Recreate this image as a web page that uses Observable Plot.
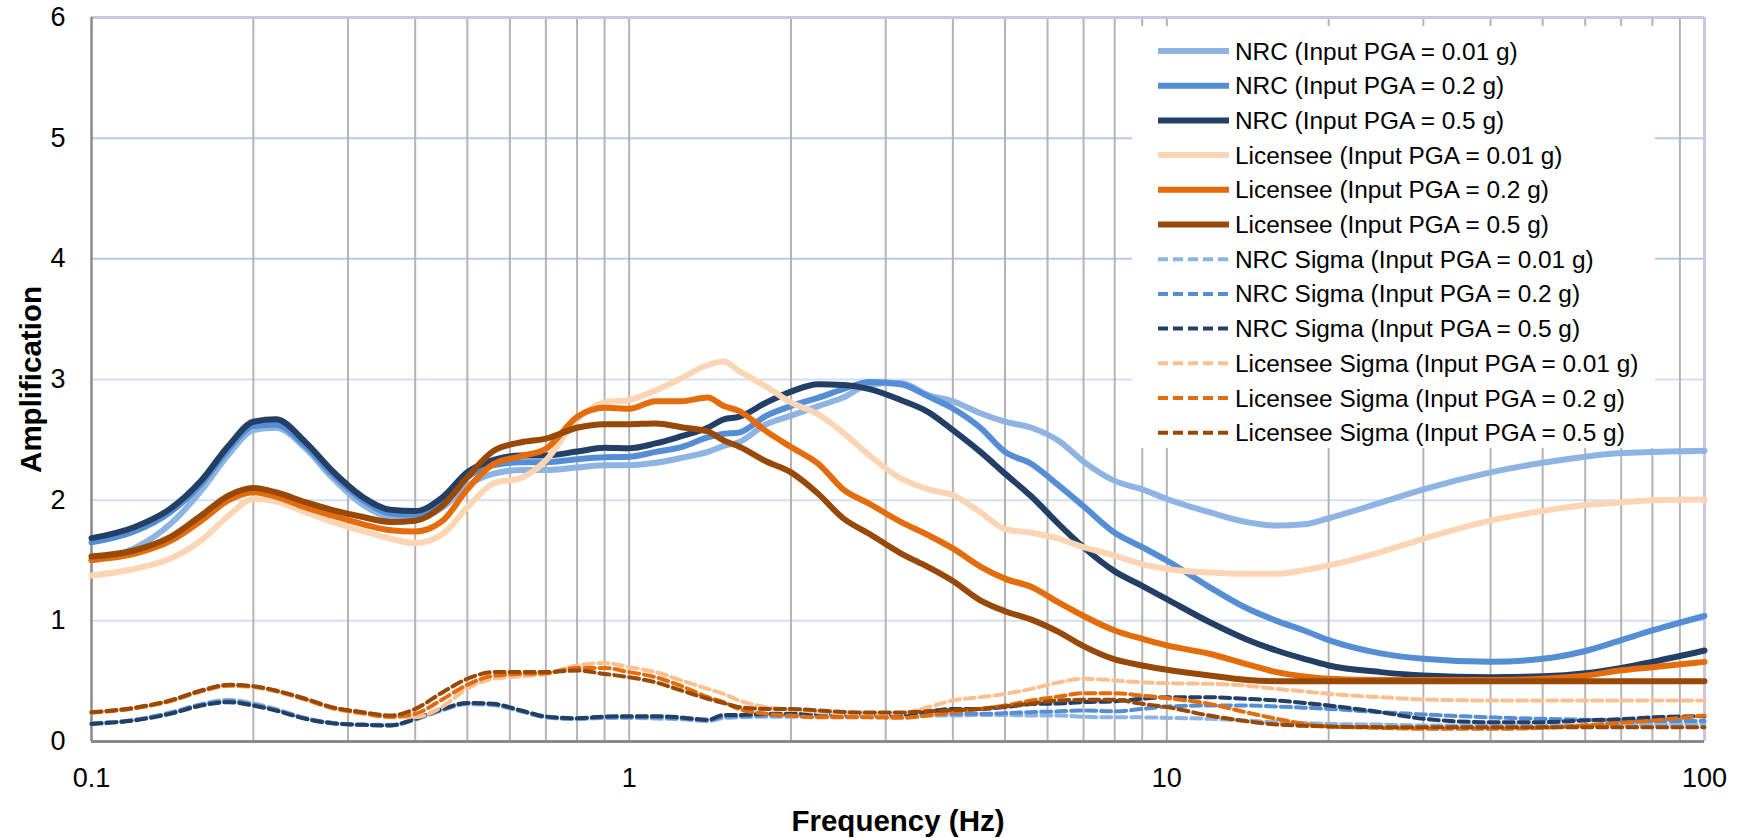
<!DOCTYPE html>
<html>
<head>
<meta charset="utf-8">
<script src="https://cdn.jsdelivr.net/npm/d3@7"></script>
<script src="https://cdn.jsdelivr.net/npm/@observablehq/plot@0.6"></script>
<style>
  html, body { margin: 0; padding: 0; background: #fff; }
  #chart { width: 1747px; height: 838px; }
</style>
</head>
<body>
<div id="chart"></div>
<script>
// ---------- data ----------
const freq = [0.1,0.12,0.14,0.16,0.18,0.2,0.22,0.25,0.28,0.32,0.36,0.4,0.45,0.5,0.56,0.63,0.7,0.8,0.9,
  1,1.12,1.25,1.4,1.5,1.6,1.8,2,2.25,2.5,2.8,3.2,3.6,4,4.5,5,5.6,6.3,7,8,9,
  10,12,14,16,18,20,25,30,40,50,60,70,80,100];

const nrc001 = [1.50,1.60,1.80,2.08,2.38,2.58,2.60,2.43,2.19,1.96,1.86,1.85,1.94,2.12,2.22,2.25,2.25,2.27,2.29,
  2.29,2.31,2.35,2.40,2.45,2.48,2.63,2.70,2.78,2.85,2.96,2.97,2.87,2.82,2.72,2.65,2.60,2.49,2.32,2.16,2.09,
  2.01,1.90,1.82,1.79,1.80,1.85,1.98,2.09,2.23,2.31,2.36,2.39,2.40,2.41];
const nrc02 = [1.65,1.74,1.90,2.135,2.425,2.615,2.625,2.45,2.22,2.00,1.89,1.88,2.00,2.19,2.29,2.315,2.315,2.34,2.356,
  2.36,2.40,2.44,2.52,2.55,2.56,2.70,2.78,2.85,2.92,2.98,2.96,2.86,2.76,2.60,2.40,2.30,2.12,1.95,1.73,1.61,
  1.50,1.28,1.11,1.00,0.92,0.84,0.73,0.685,0.66,0.685,0.75,0.84,0.92,1.04];
const nrc05 = [1.685,1.776,1.928,2.163,2.453,2.65,2.67,2.481,2.246,2.025,1.92,1.91,2.025,2.232,2.334,2.37,2.37,2.403,2.434,
  2.43,2.47,2.53,2.60,2.67,2.69,2.81,2.90,2.96,2.955,2.92,2.83,2.73,2.58,2.40,2.22,2.03,1.80,1.61,1.41,1.29,
  1.18,0.99,0.85,0.754,0.685,0.63,0.575,0.547,0.533,0.54,0.565,0.61,0.66,0.754];
const lic001 = [1.376,1.43,1.514,1.666,1.873,2.01,1.99,1.90,1.82,1.743,1.68,1.644,1.72,1.94,2.14,2.185,2.33,2.67,2.81,
  2.83,2.91,3.01,3.12,3.15,3.07,2.94,2.81,2.71,2.56,2.37,2.18,2.09,2.04,1.90,1.76,1.73,1.68,1.61,1.54,1.47,
  1.43,1.40,1.39,1.39,1.42,1.46,1.57,1.68,1.83,1.91,1.96,1.98,2.00,2.005];
const lic02 = [1.505,1.555,1.66,1.83,2.0,2.066,2.03,1.94,1.873,1.80,1.75,1.74,1.83,2.09,2.30,2.365,2.425,2.69,2.765,
  2.757,2.82,2.82,2.85,2.78,2.74,2.57,2.44,2.30,2.09,1.97,1.82,1.71,1.60,1.45,1.35,1.28,1.15,1.04,0.92,0.85,
  0.796,0.727,0.644,0.575,0.539,0.52,0.51,0.51,0.51,0.52,0.545,0.59,0.616,0.66];
const lic05 = [1.533,1.583,1.693,1.873,2.039,2.10,2.066,1.983,1.92,1.86,1.82,1.83,1.956,2.19,2.41,2.48,2.51,2.60,2.63,
  2.63,2.635,2.605,2.57,2.494,2.445,2.32,2.23,2.05,1.85,1.72,1.56,1.445,1.33,1.17,1.08,1.01,0.906,0.79,0.68,0.63,
  0.594,0.547,0.511,0.50,0.50,0.50,0.50,0.50,0.50,0.50,0.50,0.50,0.50,0.50];
const nrcS001 = [0.15,0.18,0.24,0.31,0.345,0.315,0.27,0.195,0.155,0.14,0.138,0.18,0.26,0.31,0.30,0.25,0.20,0.185,0.195,
  0.195,0.19,0.185,0.17,0.195,0.20,0.205,0.205,0.205,0.205,0.207,0.207,0.215,0.215,0.22,0.22,0.215,0.215,0.205,0.20,0.20,
  0.196,0.188,0.174,0.16,0.153,0.146,0.14,0.133,0.133,0.133,0.133,0.135,0.14,0.146];
const nrcS02 = [0.15,0.178,0.235,0.305,0.335,0.305,0.262,0.19,0.153,0.138,0.135,0.185,0.265,0.315,0.307,0.253,0.203,0.19,0.20,
  0.20,0.20,0.19,0.175,0.205,0.21,0.215,0.215,0.215,0.215,0.215,0.22,0.229,0.23,0.229,0.235,0.243,0.25,0.257,0.25,0.27,
  0.29,0.298,0.298,0.29,0.28,0.27,0.243,0.224,0.20,0.188,0.18,0.174,0.17,0.169];
const nrcS05 = [0.146,0.174,0.229,0.298,0.326,0.298,0.257,0.188,0.152,0.138,0.133,0.188,0.27,0.32,0.312,0.257,0.207,0.193,0.207,
  0.21,0.21,0.20,0.18,0.22,0.22,0.23,0.23,0.23,0.23,0.229,0.224,0.25,0.27,0.27,0.285,0.31,0.315,0.326,0.334,0.354,
  0.367,0.367,0.354,0.34,0.32,0.298,0.243,0.188,0.16,0.16,0.175,0.185,0.20,0.21];
const licS001 = [0.24,0.275,0.335,0.415,0.46,0.45,0.415,0.345,0.275,0.23,0.20,0.20,0.29,0.44,0.52,0.54,0.56,0.63,0.65,
  0.616,0.575,0.506,0.436,0.395,0.34,0.285,0.265,0.243,0.235,0.229,0.235,0.285,0.34,0.367,0.395,0.436,0.49,0.52,0.506,0.49,
  0.483,0.478,0.464,0.436,0.415,0.395,0.367,0.348,0.34,0.34,0.34,0.34,0.34,0.34];
const licS02 = [0.24,0.275,0.335,0.418,0.465,0.455,0.42,0.35,0.28,0.235,0.205,0.23,0.35,0.47,0.545,0.56,0.565,0.61,0.61,
  0.575,0.533,0.46,0.367,0.326,0.27,0.229,0.215,0.20,0.20,0.20,0.196,0.215,0.243,0.27,0.298,0.34,0.373,0.40,0.40,0.38,
  0.36,0.312,0.243,0.188,0.146,0.124,0.113,0.105,0.105,0.113,0.135,0.155,0.174,0.215];
const licS05 = [0.243,0.279,0.34,0.423,0.47,0.459,0.423,0.354,0.285,0.243,0.215,0.27,0.409,0.52,0.575,0.575,0.575,0.588,0.56,
  0.533,0.49,0.423,0.354,0.318,0.285,0.27,0.27,0.257,0.245,0.24,0.24,0.25,0.26,0.27,0.29,0.315,0.34,0.345,0.345,0.312,
  0.285,0.215,0.169,0.141,0.13,0.124,0.119,0.119,0.119,0.119,0.119,0.119,0.119,0.119];

const seriesNames = [
  "NRC (Input PGA = 0.01 g)", "NRC (Input PGA = 0.2 g)", "NRC (Input PGA = 0.5 g)",
  "Licensee (Input PGA = 0.01 g)", "Licensee (Input PGA = 0.2 g)", "Licensee (Input PGA = 0.5 g)",
  "NRC Sigma (Input PGA = 0.01 g)", "NRC Sigma (Input PGA = 0.2 g)", "NRC Sigma (Input PGA = 0.5 g)",
  "Licensee Sigma (Input PGA = 0.01 g)", "Licensee Sigma (Input PGA = 0.2 g)", "Licensee Sigma (Input PGA = 0.5 g)"
];
const seriesValues = [nrc001, nrc02, nrc05, lic001, lic02, lic05, nrcS001, nrcS02, nrcS05, licS001, licS02, licS05];
const seriesColors = ["#8eb4e3", "#558ed5", "#243f66", "#fcd5b5", "#e46c0a", "#984807",
                      "#8eb4e3", "#558ed5", "#243f66", "#fac090", "#e46c0a", "#984807"];
const seriesDashed = [false, false, false, false, false, false, true, true, true, true, true, true];

const xTicks = [0.1, 1, 10, 100];
const yTicks = [0, 1, 2, 3, 4, 5, 6];
const xTitle = "Frequency (Hz)";
const yTitle = "Amplification";

// ---------- build ----------
const series = seriesNames.map((name, i) => ({
  name, color: seriesColors[i], dashed: seriesDashed[i],
  rows: freq.map((f, j) => ({f, v: seriesValues[i][j]}))
}));

const minorX = [];
for (const d of [0.1, 1, 10]) for (let k = 1; k <= 9; k++) {
  const t = +(k * d).toPrecision(3);
  if (t > 0.1 && t < 100) minorX.push(t);
}
const hGrid = yTicks.filter(t => t > 0 && t < 6);

const FONT = "'Liberation Sans', Arial, Helvetica, sans-serif";

const svgEl = Plot.plot({
  width: 1747, height: 838,
  marginLeft: 91, marginRight: 43, marginTop: 17, marginBottom: 97,
  style: {fontFamily: FONT, fontSize: "27px", color: "#000", background: "#fff", overflow: "visible"},
  x: {type: "log", domain: [0.1, 100], ticks: xTicks, tickFormat: d => String(d), tickSize: 0, tickPadding: 26, label: null},
  y: {domain: [0, 6], ticks: yTicks, tickFormat: d => String(d), tickSize: 0, tickPadding: 26, label: null},
  marks: [
    Plot.ruleY(hGrid, {stroke: d => d >= 4 ? "#b9cbe9" : "#d3dff2", strokeWidth: 2, ariaLabel: "hgrid"}),
    Plot.ruleX(minorX, {stroke: "#b4b4b4", strokeWidth: 2, ariaLabel: "vgrid"}),
    Plot.ruleY([6], {stroke: "#c8c6e0", strokeWidth: 3}),
    Plot.ruleX([100], {stroke: "#c8c6e0", strokeWidth: 3}),
    Plot.ruleX([0.1], {stroke: "#8a8a8a", strokeWidth: 2.5}),
    Plot.ruleY([0], {stroke: "#8a8a8a", strokeWidth: 3}),
    ...series.map(s => Plot.line(s.rows, {
      x: "f", y: "v", stroke: s.color,
      strokeWidth: s.dashed ? 4 : 6,
      ...(s.dashed ? {strokeDasharray: "10,5"} : {}),
      curve: "monotone-x"
    })),
    Plot.text([xTitle], {frameAnchor: "bottom", lineAnchor: "middle", textAnchor: "middle", dy: 80,
      text: d => d, fontWeight: "bold", fontSize: 29.5}),
    Plot.text([yTitle], {frameAnchor: "left", textAnchor: "middle", lineAnchor: "middle", dx: -60, rotate: -90,
      text: d => d, fontWeight: "bold", fontSize: 29.5})
  ]
});

document.getElementById("chart").appendChild(svgEl);

// legend background (interrupts horizontal grid only) + legend entries
const svg = d3.select(svgEl);
svg.insert("rect", "g[aria-label='vgrid']")
  .attr("x", 1132).attr("y", 26).attr("width", 523).attr("height", 422)
  .attr("fill", "#fff");

const lg = svg.append("g")
  .attr("font-family", FONT).attr("font-size", 24.4)
  .attr("text-anchor", "start");
series.forEach((s, i) => {
  const y = 51 + i * 34.7;
  lg.append("line")
    .attr("x1", 1158).attr("x2", 1229).attr("y1", y).attr("y2", y)
    .attr("stroke", s.color)
    .attr("stroke-width", s.dashed ? 4 : 6)
    .attr("stroke-dasharray", s.dashed ? "10,5" : null);
  lg.append("text")
    .attr("x", 1235).attr("y", y).attr("dy", "0.35em")
    .attr("text-anchor", "start")
    .attr("fill", "#000")
    .text(s.name);
});
</script>
</body>
</html>
